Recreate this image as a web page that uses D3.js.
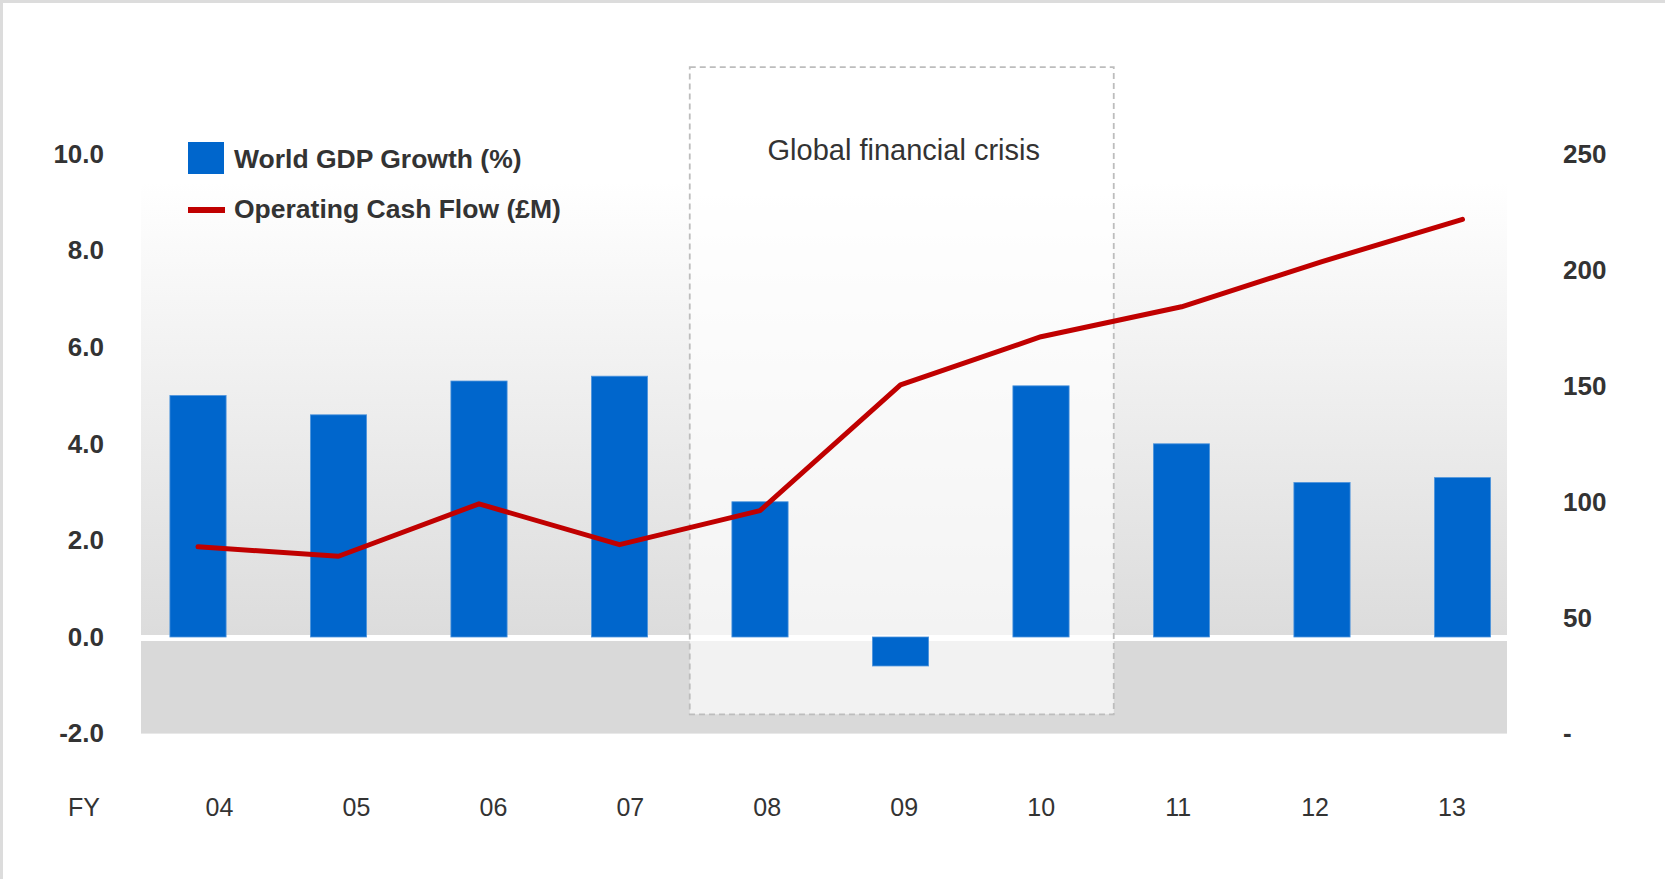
<!DOCTYPE html>
<html>
<head>
<meta charset="utf-8">
<script src="https://cdn.jsdelivr.net/npm/d3@7/dist/d3.min.js"></script>
<style>
  html, body { margin: 0; padding: 0; background: #ffffff; }
  svg { display: block; }
  text { font-family: "Liberation Sans", Arial, Helvetica, sans-serif; fill: #333333; }
</style>
</head>
<body>
<svg id="chart" width="1665" height="879"></svg>
<script>
// Financial years shown on the category axis
const categories = ["04", "05", "06", "07", "08", "09", "10", "11", "12", "13"];
// World GDP growth, % (bars, left axis)
const gdpGrowth = [5.0, 4.6, 5.3, 5.4, 2.8, -0.6, 5.2, 4.0, 3.2, 3.3];
// Operating cash flow, £M (line, right axis)
const cashFlow = [80.6, 76.5, 99.1, 81.5, 96.2, 150.4, 171.2, 184.1, 203.6, 221.8];
// Axis ticks
const leftTicks = [-2, 0, 2, 4, 6, 8, 10];
const rightTicks = [0, 50, 100, 150, 200, 250];
// Series names
const seriesNames = ["World GDP Growth (%)", "Operating Cash Flow (£M)"];
const crisisLabel = "Global financial crisis";
const crisisYears = ["08", "10"];

const BLUE = "#0066cc";
const RED = "#c00000";

const svg = d3.select("#chart");

// Scales
const yL = d3.scaleLinear().domain([-2, 10]).range([733.6, 154]);
const yR = d3.scaleLinear().domain([0, 250]).range([733.6, 154]);
const xPt = d3.scalePoint().domain(categories).range([198, 1462.5]);
const xLab = d3.scalePoint().domain(categories).range([219, 1451.5]);
const step = xPt.step();
const barW = step * 0.4;

const plotLeft = 141, plotRight = 1507, plotTop = 182;

// Frame edges
svg.append("rect").attr("x", 0).attr("y", 0).attr("width", 1665).attr("height", 3).attr("fill", "#dcdcdc");
svg.append("rect").attr("x", 0).attr("y", 0).attr("width", 3).attr("height", 879).attr("fill", "#dcdcdc");

// Plot background: gradient above zero, flat grey below, white gap at zero
const defs = svg.append("defs");
const grad = defs.append("linearGradient").attr("id", "plotGrad")
  .attr("x1", 0).attr("y1", 0).attr("x2", 0).attr("y2", 1);
grad.append("stop").attr("offset", "0%").attr("stop-color", "#ffffff");
grad.append("stop").attr("offset", "100%").attr("stop-color", "#dcdcdc");

svg.append("rect")
  .attr("x", plotLeft).attr("y", plotTop)
  .attr("width", plotRight - plotLeft).attr("height", yL(0) - 2 - plotTop)
  .attr("fill", "url(#plotGrad)");
svg.append("rect")
  .attr("x", plotLeft).attr("y", yL(0) + 4)
  .attr("width", plotRight - plotLeft).attr("height", yL(-2) - (yL(0) + 4))
  .attr("fill", "#d9d9d9");

// Crisis period box, spanning FY08 to FY10
const boxX0 = xPt(crisisYears[0]) - step / 2;
const boxX1 = xPt(crisisYears[1]) + step / 2 + 2.5;
const boxY0 = yL(11.8), boxY1 = yL(-1.6);
svg.append("rect")
  .attr("x", boxX0).attr("y", boxY0)
  .attr("width", boxX1 - boxX0).attr("height", boxY1 - boxY0)
  .attr("fill", "#ffffff").attr("fill-opacity", 0.66)
  .attr("stroke", "#bdbdbd").attr("stroke-width", 1.8)
  .attr("stroke-dasharray", "6,4");
svg.append("text")
  .attr("x", (boxX0 + boxX1) / 2 + 2).attr("y", 160)
  .attr("text-anchor", "middle")
  .style("font-size", "29px")
  .text(crisisLabel);

// Bars
svg.append("g").selectAll("rect")
  .data(categories.map((c, i) => ({ c, v: gdpGrowth[i] })))
  .join("rect")
  .attr("x", d => xPt(d.c) - barW / 2)
  .attr("y", d => yL(Math.max(0, d.v)))
  .attr("width", barW)
  .attr("height", d => Math.abs(yL(d.v) - yL(0)))
  .attr("fill", BLUE)
  .attr("stroke", "#4f95dc").attr("stroke-width", 0.8);

// Cash flow line
const line = d3.line().x(d => xPt(d.c)).y(d => yR(d.v));
svg.append("path")
  .datum(categories.map((c, i) => ({ c, v: cashFlow[i] })))
  .attr("d", line)
  .attr("fill", "none")
  .attr("stroke", RED).attr("stroke-width", 5)
  .attr("stroke-linejoin", "round").attr("stroke-linecap", "round");

// Left axis
const leftAxis = svg.append("g")
  .attr("transform", "translate(104,0)")
  .call(d3.axisLeft(yL).tickValues(leftTicks).tickSize(0).tickPadding(0)
    .tickFormat(d => d.toFixed(1)));
leftAxis.select(".domain").remove();
leftAxis.selectAll("text")
  .attr("fill", "#333333")
  .style("font-family", "'Liberation Sans', Arial, sans-serif")
  .style("font-size", "26px").style("font-weight", "bold");

// Right axis
const rightAxis = svg.append("g")
  .attr("transform", "translate(1563,0)")
  .call(d3.axisRight(yR).tickValues(rightTicks).tickSize(0).tickPadding(0)
    .tickFormat(d => d === 0 ? "-" : String(d)));
rightAxis.select(".domain").remove();
rightAxis.selectAll("text")
  .attr("fill", "#333333")
  .style("font-family", "'Liberation Sans', Arial, sans-serif")
  .style("font-size", "26px").style("font-weight", "bold");

// Category axis
const xAxis = svg.append("g")
  .attr("transform", "translate(0,807)")
  .call(d3.axisBottom(xLab).tickSize(0).tickPadding(0));
xAxis.select(".domain").remove();
xAxis.selectAll("text")
  .attr("fill", "#333333")
  .attr("dy", "0.35em")
  .style("font-family", "'Liberation Sans', Arial, sans-serif")
  .style("font-size", "25px");
svg.append("text")
  .attr("x", 68).attr("y", 807).attr("dy", "0.35em")
  .style("font-size", "25px")
  .text("FY");

// Legend
const legend = svg.append("g");
legend.append("rect").attr("x", 188).attr("y", 142).attr("width", 36).attr("height", 32).attr("fill", BLUE);
legend.append("line").attr("x1", 188).attr("x2", 225).attr("y1", 210).attr("y2", 210)
  .attr("stroke", RED).attr("stroke-width", 6);
legend.selectAll("text.lg")
  .data(seriesNames)
  .join("text")
  .attr("class", "lg")
  .attr("x", 234)
  .attr("y", (d, i) => i === 0 ? 159 : 209)
  .attr("dy", "0.35em")
  .style("font-size", "26.5px").style("font-weight", "bold")
  .text(d => d);
</script>
</body>
</html>
